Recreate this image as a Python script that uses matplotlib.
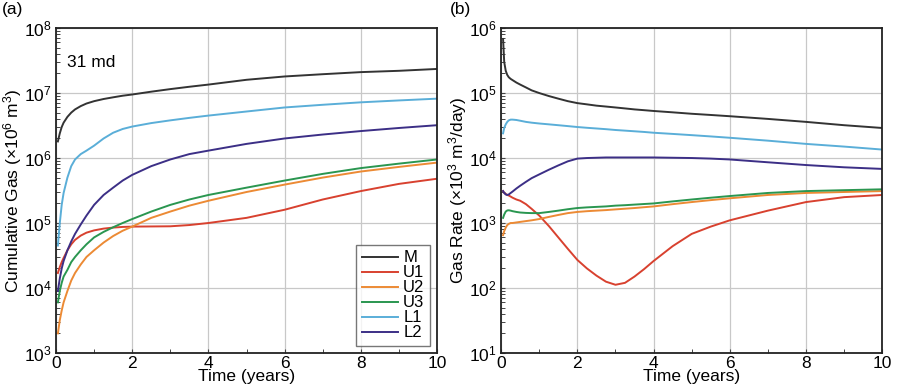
import matplotlib
matplotlib.use("Agg")
import matplotlib.pyplot as plt
from matplotlib.ticker import LogLocator, MultipleLocator, NullFormatter

plt.rcParams['font.family'] = ['Liberation Sans', 'DejaVu Sans']
plt.rcParams['mathtext.fontset'] = 'custom'
plt.rcParams['mathtext.rm'] = 'Liberation Sans'
plt.rcParams['mathtext.it'] = 'Liberation Sans'

names = ["M", "U1", "U2", "U3", "L1", "L2"]
colors = ["#333333", "#d8412f", "#ec8a34", "#2a9650", "#5aaed8", "#3c2f86"]

# Panel (a): cumulative gas
cum_time = [0.05, 0.1, 0.15, 0.2, 0.3, 0.4, 0.5, 0.65, 0.8, 1, 1.25, 1.5, 1.75, 2, 2.5, 3, 3.5, 4, 5, 6, 7, 8, 9, 10]
cum_v = {
    "M":  [1.8e6, 2.4e6, 3.0e6, 3.5e6, 4.3e6, 5.0e6, 5.6e6, 6.3e6, 6.9e6, 7.5e6, 8.1e6, 8.6e6, 9.1e6, 9.5e6, 1.05e7, 1.15e7, 1.25e7, 1.35e7, 1.6e7, 1.8e7, 1.95e7, 2.1e7, 2.2e7, 2.35e7],
    "U1": [1.7e4, 2.1e4, 2.5e4, 2.9e4, 3.8e4, 4.7e4, 5.5e4, 6.4e4, 7.1e4, 7.7e4, 8.2e4, 8.5e4, 8.7e4, 8.8e4, 8.85e4, 8.9e4, 9.3e4, 1.0e5, 1.2e5, 1.6e5, 2.3e5, 3.1e5, 4.0e5, 4.8e5],
    "U2": [2.0e3, 3.2e3, 4.5e3, 6.0e3, 9.0e3, 1.3e4, 1.7e4, 2.3e4, 3.0e4, 3.8e4, 5.0e4, 6.3e4, 7.6e4, 8.8e4, 1.2e5, 1.5e5, 1.85e5, 2.2e5, 3.0e5, 3.9e5, 5.0e5, 6.2e5, 7.3e5, 8.5e5],
    "U3": [6.0e3, 9.0e3, 1.2e4, 1.5e4, 1.9e4, 2.5e4, 3.0e4, 3.8e4, 4.7e4, 6.0e4, 7.3e4, 8.6e4, 1.0e5, 1.15e5, 1.5e5, 1.9e5, 2.3e5, 2.7e5, 3.5e5, 4.5e5, 5.7e5, 7.0e5, 8.2e5, 9.5e5],
    "L1": [4.5e4, 1.0e5, 1.9e5, 2.9e5, 5.0e5, 7.5e5, 9.5e5, 1.15e6, 1.3e6, 1.55e6, 2.0e6, 2.45e6, 2.8e6, 3.05e6, 3.45e6, 3.8e6, 4.15e6, 4.5e6, 5.2e6, 6.0e6, 6.6e6, 7.2e6, 7.7e6, 8.2e6],
    "L2": [9.0e3, 1.4e4, 2.0e4, 2.6e4, 3.8e4, 5.2e4, 6.8e4, 9.5e4, 1.3e5, 1.9e5, 2.7e5, 3.5e5, 4.5e5, 5.5e5, 7.5e5, 9.5e5, 1.15e6, 1.3e6, 1.65e6, 2.0e6, 2.3e6, 2.6e6, 2.9e6, 3.2e6],
}

# Panel (b): gas rate
rate_time = [0.05, 0.08, 0.12, 0.16, 0.2, 0.25, 0.3, 0.4, 0.5, 0.65, 0.8, 1, 1.25, 1.5, 1.75, 2, 2.25, 2.5, 2.75, 3, 3.25, 3.5, 3.75, 4, 4.5, 5, 5.5, 6, 7, 8, 9, 10]
rate_v = {
    "M":  [6.8e5, 3.0e5, 2.2e5, 1.9e5, 1.75e5, 1.65e5, 1.58e5, 1.45e5, 1.35e5, 1.22e5, 1.1e5, 1.0e5, 9.0e4, 8.2e4, 7.5e4, 7.0e4, 6.7e4, 6.4e4, 6.2e4, 6.0e4, 5.8e4, 5.6e4, 5.45e4, 5.3e4, 5.05e4, 4.8e4, 4.6e4, 4.4e4, 4.0e4, 3.6e4, 3.2e4, 2.9e4],
    "U1": [3.1e3, 2.9e3, 2.8e3, 2.7e3, 2.65e3, 2.55e3, 2.45e3, 2.3e3, 2.2e3, 1.95e3, 1.65e3, 1.3e3, 9.0e2, 6.0e2, 4.0e2, 2.7e2, 2.0e2, 1.55e2, 1.25e2, 1.12e2, 1.2e2, 1.5e2, 1.95e2, 2.6e2, 4.4e2, 6.8e2, 8.8e2, 1.1e3, 1.55e3, 2.1e3, 2.5e3, 2.7e3],
    "U2": [6.5e2, 7.5e2, 8.5e2, 9.3e2, 9.7e2, 1.0e3, 1.0e3, 1.02e3, 1.04e3, 1.07e3, 1.1e3, 1.15e3, 1.24e3, 1.33e3, 1.42e3, 1.48e3, 1.52e3, 1.55e3, 1.58e3, 1.62e3, 1.66e3, 1.7e3, 1.75e3, 1.8e3, 1.95e3, 2.1e3, 2.25e3, 2.4e3, 2.7e3, 2.9e3, 3.0e3, 3.1e3],
    "U3": [1.2e3, 1.35e3, 1.5e3, 1.56e3, 1.57e3, 1.55e3, 1.52e3, 1.48e3, 1.45e3, 1.43e3, 1.42e3, 1.42e3, 1.48e3, 1.55e3, 1.63e3, 1.7e3, 1.74e3, 1.77e3, 1.8e3, 1.85e3, 1.88e3, 1.92e3, 1.96e3, 2.0e3, 2.15e3, 2.3e3, 2.45e3, 2.6e3, 2.9e3, 3.1e3, 3.2e3, 3.3e3],
    "L1": [2.4e4, 2.9e4, 3.3e4, 3.6e4, 3.8e4, 3.9e4, 3.9e4, 3.85e4, 3.75e4, 3.6e4, 3.5e4, 3.4e4, 3.3e4, 3.2e4, 3.1e4, 3.0e4, 2.92e4, 2.85e4, 2.78e4, 2.7e4, 2.64e4, 2.58e4, 2.52e4, 2.45e4, 2.35e4, 2.25e4, 2.15e4, 2.05e4, 1.85e4, 1.65e4, 1.5e4, 1.35e4],
    "L2": [3.1e3, 2.9e3, 2.75e3, 2.7e3, 2.75e3, 2.9e3, 3.05e3, 3.4e3, 3.75e3, 4.3e3, 4.9e3, 5.6e3, 6.6e3, 7.7e3, 8.9e3, 9.8e3, 1.0e4, 1.01e4, 1.02e4, 1.02e4, 1.02e4, 1.02e4, 1.02e4, 1.02e4, 1.01e4, 1.0e4, 9.8e3, 9.5e3, 8.6e3, 7.8e3, 7.2e3, 6.8e3],
}

fig = plt.figure(figsize=(9.03, 3.9), dpi=100)
ax1 = fig.add_axes([0.062, 0.095, 0.422, 0.833])
ax2 = fig.add_axes([0.555, 0.095, 0.422, 0.833])

def style(ax, ylo, yhi):
    ax.set_yscale('log')
    ax.set_xlim(0, 10)
    ax.set_ylim(ylo, yhi)
    ax.xaxis.set_major_locator(MultipleLocator(2))
    ax.xaxis.set_minor_locator(MultipleLocator(1))
    ax.yaxis.set_major_locator(LogLocator(base=10, numticks=20))
    ax.yaxis.set_minor_locator(LogLocator(base=10, subs=range(2, 10), numticks=20))
    ax.yaxis.set_minor_formatter(NullFormatter())
    ax.grid(True, which='major', color='#c8c8c8', linewidth=0.9)
    ax.tick_params(which='both', direction='in', labelsize=12.5, color='#444444')
    ax.tick_params(axis='x', which='major', length=3, pad=2)
    ax.tick_params(axis='y', which='major', length=3, pad=3)
    ax.tick_params(which='minor', length=3, width=0.7)
    for s in ax.spines.values():
        s.set_linewidth(1.3)
        s.set_color('#222222')
    ax.set_xlabel("Time (years)", fontsize=12.5, labelpad=-1)

style(ax1, 1e3, 1e8)
style(ax2, 1e1, 1e6)

for n, c in zip(names, colors):
    ax1.plot(cum_time, cum_v[n], color=c, lw=1.4, label=n)
    ax2.plot(rate_time, rate_v[n], color=c, lw=1.4, label=n)

ax1.set_ylabel("Cumulative Gas (×10$^6$ m$^3$)", fontsize=12.5, labelpad=0)
ax2.set_ylabel("Gas Rate (×10$^3$ m$^3$/day)", fontsize=12.5, labelpad=0)

ax1.text(0.3, 3.0e7, "31 md", fontsize=12.5, va='center')

leg = ax1.legend(loc='lower right', fontsize=12, frameon=True, fancybox=False,
                 handlelength=2.2, labelspacing=0.0, borderpad=0.35,
                 handletextpad=0.3, borderaxespad=0.4)
leg.get_frame().set_edgecolor('#555555')
leg.get_frame().set_linewidth(1.0)

fig.text(0.002, 0.975, "(a)", fontsize=12.5, va='center')
fig.text(0.498, 0.975, "(b)", fontsize=12.5, va='center')

fig.savefig("out.png", dpi=100)
